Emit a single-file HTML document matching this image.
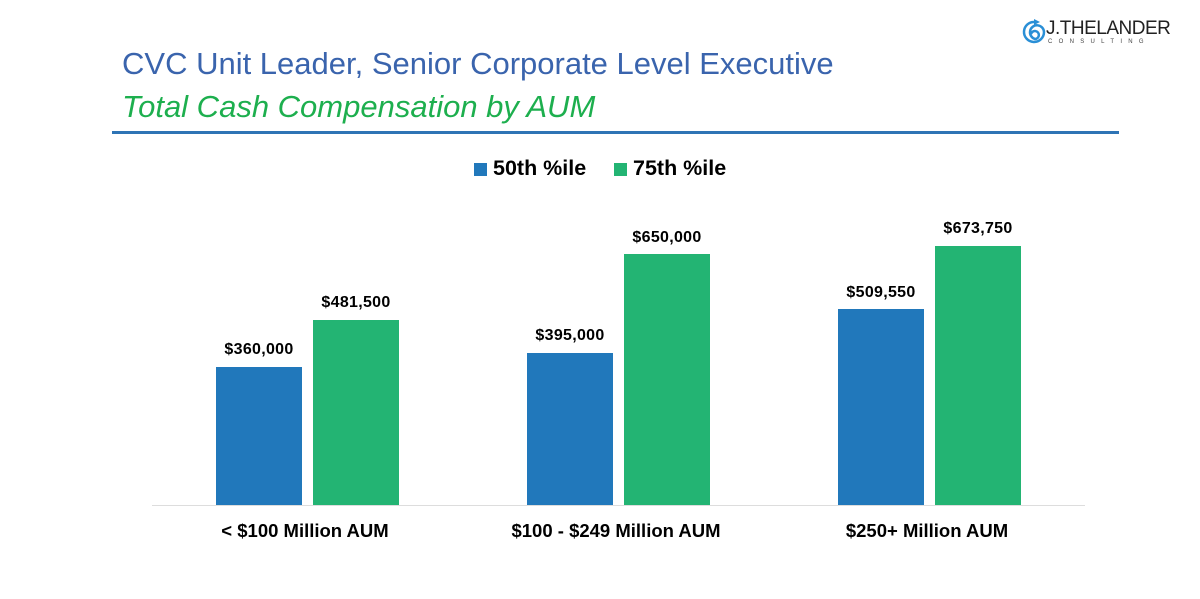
<!DOCTYPE html>
<html><head><meta charset="utf-8"><style>
body{margin:0;background:#fff;width:1200px;height:599px;position:relative;overflow:hidden;font-family:"Liberation Sans",sans-serif}
.a{position:absolute;white-space:nowrap}
.bar{position:absolute;width:86px}
.b{background:#2178bb}.g{background:#23b473}
.v{position:absolute;width:120px;text-align:center;font-weight:bold;font-size:16px;letter-spacing:0.3px;color:#000}
.c{position:absolute;width:300px;text-align:center;font-weight:bold;font-size:18.5px;top:520px}
</style></head><body>
<div class="a" style="left:122px;top:46px;font-size:31px;color:#3a64ad">CVC Unit Leader, Senior Corporate Level Executive</div>
<div class="a" style="left:122px;top:89px;font-size:31px;color:#1daf4e;font-style:italic">Total Cash Compensation by AUM</div>
<div class="a" style="left:112px;top:131px;width:1007px;height:3px;background:#2e74b5"></div>
<svg class="a" style="left:1022px;top:18px" width="26" height="28" viewBox="0 0 26 28"><path d="M13 4 A10 10 0 1 0 22 14 A7 7 0 1 0 13 21 A4 4 0 1 0 9 16" fill="none" stroke="#2a8fd6" stroke-width="2.5"/><path d="M12 1 L18 4 L12 7Z" fill="#2a8fd6"/></svg>
<div class="a" style="left:1046px;top:18px;font-size:19px;color:#222;letter-spacing:-0.5px">J.THELANDER</div>
<div class="a" style="left:1048px;top:39px;font-size:6px;color:#444;letter-spacing:6.3px">CONSULTING</div>
<div class="a" style="left:474px;top:163px;width:13px;height:13px;background:#2178bb"></div>
<div class="a" style="left:493px;top:156px;font-size:21.5px;font-weight:bold">50th %ile</div>
<div class="a" style="left:614px;top:163px;width:13px;height:13px;background:#23b473"></div>
<div class="a" style="left:633px;top:156px;font-size:21.5px;font-weight:bold">75th %ile</div>
<div class="a" style="left:152px;top:505px;width:933px;height:1px;background:#ddd"></div>
<div class="bar b" style="left:216px;top:367px;height:138px"></div>
<div class="bar g" style="left:313px;top:320px;height:185px"></div>
<div class="bar b" style="left:527px;top:353px;height:152px"></div>
<div class="bar g" style="left:624px;top:254px;height:251px"></div>
<div class="bar b" style="left:838px;top:309px;height:196px"></div>
<div class="bar g" style="left:935px;top:246px;height:259px"></div>
<div class="v" style="left:199px;top:341px">$360,000</div>
<div class="v" style="left:296px;top:294px">$481,500</div>
<div class="v" style="left:510px;top:327px">$395,000</div>
<div class="v" style="left:607px;top:229px">$650,000</div>
<div class="v" style="left:821px;top:284px">$509,550</div>
<div class="v" style="left:918px;top:220px">$673,750</div>
<div class="c" style="left:155px">&lt; $100 Million AUM</div>
<div class="c" style="left:466px">$100 - $249 Million AUM</div>
<div class="c" style="left:777px">$250+ Million AUM</div>
</body></html>
